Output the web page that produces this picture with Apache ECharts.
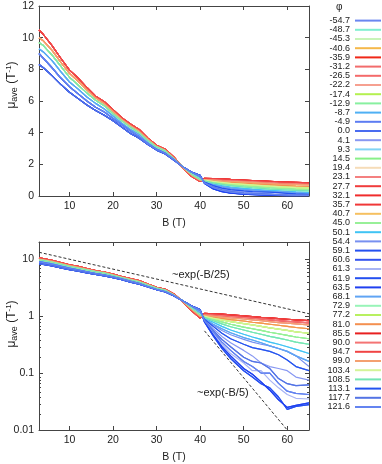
<!DOCTYPE html>
<html>
<head>
<meta charset="utf-8">
<script src="https://cdn.jsdelivr.net/npm/echarts@6/dist/echarts.min.js"></script>
<style>
html, body { margin: 0; padding: 0; background: #fff; }
#chart { width: 382px; height: 464px; }
</style>
</head>
<body>
<div id="chart"></div>
<script>
// angle labels (legend order) and their line colours
const phiLabels = ['-54.7', '-48.7', '-45.3', '-40.6', '-35.9', '-31.2', '-26.5', '-22.2', '-17.4', '-12.9',
  '-8.7', '-4.9', '0.0', '4.1', '9.3', '14.5', '19.4', '23.1', '27.7', '32.1', '35.7', '40.7', '45.0',
  '50.1', '54.4', '59.1', '60.6', '61.3', '61.9', '63.5', '68.1', '72.9', '77.2', '81.0', '85.5', '90.0',
  '94.7', '99.0', '103.4', '108.5', '113.1', '117.7', '121.6']
const lineColors = ['#6a86f0', '#7fefd0', '#c8f4b8', '#f5b84a', '#f02818', '#f26c6c', '#f46a6a', '#f6a090', '#b4f050', '#88f0a0',
  '#4fb0f4', '#5c7cf2', '#4a6cf0', '#8898f2', '#80d4f4', '#88f088', '#f6dcb8', '#f48080', '#f03c3c', '#f02c2c', '#f03838', '#f6c060', '#98f098',
  '#40c4f4', '#7890f0', '#2450f0', '#3454f0', '#a8b4f4', '#2450f0', '#2040f0', '#60a4f4', '#98f4b8', '#b8f060', '#f49050', '#e82020', '#f47474',
  '#f04444', '#f4a070', '#d4f498', '#74e4b4', '#2454f0', '#5474e4', '#6484f0']

// low field part (B <= 40 T), mobility in 1/T
const bLow = [3, 4, 6, 8, 10, 12, 14, 16, 18, 20, 22, 24, 26, 28, 30, 32, 34, 36, 38, 40]
const lowRed = [10.5, 10.2, 9.5, 8.7, 7.95, 7.45, 6.85, 6.3, 5.95, 5.45, 4.95, 4.55, 4.2, 3.65, 3.2, 2.95, 2.45, 1.8, 1.25, 0.92]
const lowOrange = [10.0, 9.8, 9.2, 8.45, 7.75, 7.25, 6.7, 6.2, 5.85, 5.35, 4.85, 4.45, 4.1, 3.6, 3.15, 2.9, 2.4, 1.8, 1.3, 0.98]
const lowGreen = [9.7, 9.5, 8.9, 8.2, 7.5, 7.0, 6.5, 6.05, 5.7, 5.2, 4.75, 4.35, 4.0, 3.5, 3.1, 2.85, 2.35, 1.85, 1.38, 1.05]
const lowCyan = [9.3, 9.1, 8.55, 7.85, 7.2, 6.75, 6.25, 5.85, 5.5, 5.05, 4.6, 4.2, 3.9, 3.4, 3.0, 2.75, 2.3, 1.85, 1.45, 1.15]
const lowBlue = [9.0, 8.7, 8.1, 7.45, 6.9, 6.45, 6.0, 5.6, 5.3, 4.9, 4.5, 4.1, 3.75, 3.3, 2.95, 2.7, 2.3, 1.85, 1.5, 1.25]
const lowNavy = [8.3, 8.1, 7.6, 7.05, 6.55, 6.15, 5.75, 5.4, 5.1, 4.75, 4.35, 3.95, 3.65, 3.25, 2.9, 2.65, 2.25, 1.85, 1.52, 1.3]

// high field part (B > 40 T)
const bHigh = [41, 43, 45, 47, 50, 52, 54, 56, 58, 60, 62, 65]
const hiRed1 = [1.12, 1.1, 1.08, 1.05, 1.01, 0.98, 0.95, 0.93, 0.9, 0.88, 0.86, 0.83]
const hiRed2 = [1.08, 1.05, 1.02, 0.99, 0.95, 0.92, 0.89, 0.86, 0.83, 0.81, 0.79, 0.76]
const hiRed3 = [1.04, 1.0, 0.96, 0.93, 0.89, 0.86, 0.83, 0.8, 0.77, 0.75, 0.73, 0.7]
const hiOrange = [1.02, 0.96, 0.91, 0.87, 0.82, 0.78, 0.75, 0.72, 0.69, 0.66, 0.63, 0.6]
const hiLime = [1.0, 0.92, 0.86, 0.8, 0.74, 0.7, 0.66, 0.62, 0.59, 0.56, 0.53, 0.5]
const hiGreen = [0.97, 0.87, 0.79, 0.72, 0.64, 0.6, 0.56, 0.52, 0.49, 0.46, 0.43, 0.4]
const hiAqua = [0.95, 0.83, 0.73, 0.65, 0.57, 0.52, 0.48, 0.44, 0.41, 0.38, 0.35, 0.32]
const hiCyan = [0.93, 0.78, 0.66, 0.57, 0.48, 0.43, 0.39, 0.35, 0.32, 0.29, 0.26, 0.22]
const hiSky = [0.9, 0.72, 0.6, 0.51, 0.42, 0.38, 0.34, 0.3, 0.27, 0.24, 0.2, 0.16]
const hiBlue1 = [0.9, 0.7, 0.56, 0.47, 0.39, 0.35, 0.32, 0.3, 0.27, 0.24, 0.2, 0.13]
const hiBlue2 = [0.88, 0.66, 0.5, 0.4, 0.32, 0.28, 0.26, 0.24, 0.21, 0.17, 0.13, 0.11]
const hiBlue3 = [0.86, 0.6, 0.44, 0.34, 0.25, 0.2, 0.15, 0.13, 0.12, 0.11, 0.085, 0.075]
const hiBlue4 = [0.84, 0.56, 0.39, 0.29, 0.19, 0.16, 0.15, 0.12, 0.08, 0.065, 0.06, 0.062]
const hiBlue5 = [0.83, 0.53, 0.35, 0.25, 0.16, 0.13, 0.1, 0.1, 0.066, 0.048, 0.044, 0.042]
const hiBlue6 = [0.81, 0.5, 0.32, 0.22, 0.15, 0.11, 0.11, 0.075, 0.055, 0.042, 0.036, 0.035]
const hiBlue7 = [0.8, 0.47, 0.29, 0.2, 0.12, 0.095, 0.07, 0.05, 0.034, 0.025, 0.027, 0.03]
const hiBlue8 = [0.79, 0.45, 0.27, 0.18, 0.11, 0.085, 0.065, 0.055, 0.038, 0.023, 0.026, 0.028]

// which low / high curve each angle follows
const lowCurves = [lowRed, lowOrange, lowGreen, lowCyan, lowBlue, lowNavy]
const highCurves = [hiRed1, hiRed2, hiRed3, hiOrange, hiLime, hiGreen, hiAqua, hiCyan, hiSky,
  hiBlue1, hiBlue2, hiBlue3, hiBlue4, hiBlue5, hiBlue6, hiBlue7, hiBlue8]
const lowPick = [4, 2, 2, 1, 0, 0, 1, 1, 2, 2, 3, 4, 5, 4, 3, 2, 1, 1, 0, 0, 0, 1, 2,
  3, 4, 5, 5, 4, 5, 5, 3, 2, 2, 1, 0, 0, 0, 1, 2, 2, 4, 5, 4]
const highPick = [10, 6, 4, 3, 0, 1, 1, 2, 4, 5, 8, 12, 13, 11, 7, 5, 3, 2, 0, 0, 1, 3, 5,
  7, 9, 15, 16, 14, 16, 15, 8, 6, 4, 3, 0, 1, 0, 2, 4, 6, 10, 12, 13]

// guide lines on the log panel (end points)
const slowGuide = [[3, 13.2], [65, 1.1]]
const fastGuide = [[41, 0.55], [60, 0.01]]

const bTicks = [10, 20, 30, 40, 50, 60]
const logTicks = [0.01, 0.1, 1, 10]
const logMinor = [0.02, 0.03, 0.04, 0.05, 0.06, 0.07, 0.08, 0.09, 0.2, 0.3, 0.4, 0.5, 0.6, 0.7, 0.8, 0.9,
  2, 3, 4, 5, 6, 7, 8, 9]

const font = 'Liberation Sans, Arial, sans-serif'
const frame = '#444'
const txt = '#222'

function curve(i) {
  const lo = lowCurves[lowPick[i]]
  const hi = highCurves[highPick[i]]
  return bLow.map((b, k) => [b, lo[k]]).concat(bHigh.map((b, k) => [b, hi[k]]))
}

function xAxisFor(grid, pos, withLabels) {
  return {
    gridIndex: grid, type: 'value', min: 3, max: 65, position: pos,
    name: withLabels ? 'B (T)' : '', nameLocation: 'middle', nameGap: 22,
    nameTextStyle: { fontSize: 10.5, color: txt, fontFamily: font },
    axisLine: { onZero: false, lineStyle: { color: frame } },
    axisTick: { inside: true, length: 4, customValues: bTicks, lineStyle: { color: frame } },
    axisLabel: { show: withLabels, customValues: bTicks, fontSize: 10.5, color: txt, fontFamily: font, margin: 5 },
    splitLine: { show: false }
  }
}

// rotated y titles, drawn as graphic text (mu with subscript/superscript)
const yRich = {
  m: { fontSize: 12, lineHeight: 15, fontFamily: font, fill: txt },
  s: { fontSize: 9, lineHeight: 9, verticalAlign: 'bottom', fontFamily: font, fill: txt },
  p: { fontSize: 8, lineHeight: 8, verticalAlign: 'top', fontFamily: font, fill: txt }
}
function yTitle(cx, cy) {
  return {
    type: 'text', x: cx, y: cy, rotation: Math.PI / 2, silent: true,
    style: { text: '{m|μ}{s|ave}{m| (T}{p|-1}{m|)}', rich: yRich, align: 'center', verticalAlign: 'middle' }
  }
}

const series = []
phiLabels.forEach((name, i) => {
  const data = curve(i)
  const base = {
    name, type: 'line', data, symbol: 'none', color: lineColors[i],
    lineStyle: { width: 1.2 }, silent: true
  }
  series.push(Object.assign({ xAxisIndex: 0, yAxisIndex: 0 }, base))
  series.push(Object.assign({ xAxisIndex: 2, yAxisIndex: 2 }, base))
})
series.push({
  type: 'line', xAxisIndex: 2, yAxisIndex: 2, data: slowGuide, symbol: 'none', silent: true, z: 5,
  lineStyle: { color: '#333', width: 1, type: [3, 2] }
})
series.push({
  type: 'line', xAxisIndex: 2, yAxisIndex: 2, data: fastGuide, symbol: 'none', silent: true, z: 5,
  lineStyle: { color: '#333', width: 1, type: [3, 2] }
})

const chart = echarts.init(document.getElementById('chart'))
chart.setOption({
  animation: false,
  backgroundColor: '#fff',
  textStyle: { fontFamily: font },
  grid: [
    { left: 39, top: 6, width: 270, height: 190 },
    { left: 39, top: 242, width: 270, height: 190 },
    { left: 39, top: 242, width: 270, height: 190 }
  ],
  xAxis: [
    xAxisFor(0, 'bottom', true),
    xAxisFor(0, 'top', false),
    xAxisFor(1, 'bottom', true),
    xAxisFor(1, 'top', false),
    { gridIndex: 2, type: 'value', min: 3, max: 65, show: false }
  ],
  yAxis: [
    {
      gridIndex: 0, type: 'value', min: 0, max: 12, interval: 2, position: 'left',
      axisLine: { show: true, onZero: false, lineStyle: { color: frame } },
      axisTick: { show: true, inside: true, length: 4, lineStyle: { color: frame } },
      axisLabel: { fontSize: 10.5, color: txt, fontFamily: font, margin: 5 },
      splitLine: { show: false }
    },
    {
      gridIndex: 0, type: 'value', min: 0, max: 12, interval: 2, position: 'right',
      axisLine: { show: true, onZero: false, lineStyle: { color: frame } },
      axisTick: { show: true, inside: true, length: 4, lineStyle: { color: frame } },
      axisLabel: { show: false }, splitLine: { show: false }
    },
    {
      gridIndex: 1, type: 'log', min: 0.01, max: 20, position: 'left',
      axisLine: { show: true, onZero: false, lineStyle: { color: frame } },
      axisTick: { show: true, inside: true, length: 4, customValues: logTicks, lineStyle: { color: frame } },
      axisLabel: { customValues: logTicks, fontSize: 10.5, color: txt, fontFamily: font, margin: 5 },
      splitLine: { show: false }
    },
    {
      gridIndex: 1, type: 'log', min: 0.01, max: 20, position: 'right',
      axisLine: { show: true, onZero: false, lineStyle: { color: frame } },
      axisTick: { show: true, inside: true, length: 4, customValues: logTicks, lineStyle: { color: frame } },
      axisLabel: { show: false }, splitLine: { show: false }
    },
    {
      gridIndex: 2, type: 'log', min: 0.01, max: 20, position: 'left',
      axisLine: { show: false },
      axisTick: { show: true, inside: true, length: 2, customValues: logMinor, lineStyle: { color: frame } },
      axisLabel: { show: false }, splitLine: { show: false }
    },
    {
      gridIndex: 2, type: 'log', min: 0.01, max: 20, position: 'right',
      axisLine: { show: false },
      axisTick: { show: true, inside: true, length: 2, customValues: logMinor, lineStyle: { color: frame } },
      axisLabel: { show: false }, splitLine: { show: false }
    }
  ],
  legend: {
    orient: 'vertical', right: 1, top: 16, padding: 0, itemGap: 0,
    itemWidth: 26, itemHeight: 2, icon: 'rect', align: 'right', selectedMode: false,
    data: phiLabels,
    textStyle: { fontSize: 9, lineHeight: 9.2, color: txt, fontFamily: font }
  },
  graphic: [
    yTitle(12, 85),
    yTitle(12, 324),
    { type: 'text', left: 336, top: 2, style: { text: 'φ', fontSize: 10, fill: txt, fontFamily: font } },
    { type: 'text', left: 172, top: 269, style: { text: '~exp(-B/25)', fontSize: 11, fill: txt, fontFamily: font } },
    { type: 'text', left: 197, top: 387, style: { text: '~exp(-B/5)', fontSize: 11, fill: txt, fontFamily: font } }
  ],
  series
})
</script>
</body>
</html>
